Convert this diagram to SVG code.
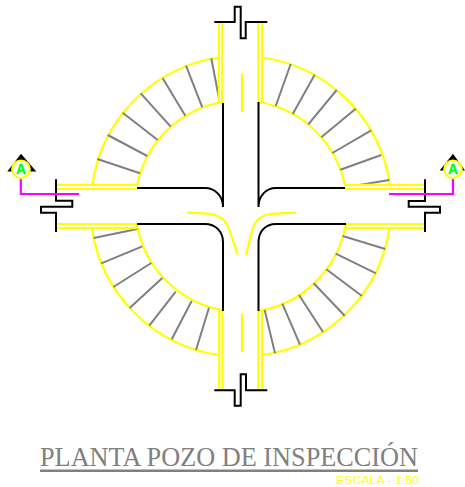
<svg xmlns="http://www.w3.org/2000/svg" width="465" height="487" viewBox="0 0 465 487">
<style>
.k{fill:none;stroke:#000;stroke-width:2}
.y{fill:none;stroke:#ff0;stroke-width:2.2}
.g{fill:none;stroke:#808080;stroke-width:2}
.m{fill:none;stroke:#f0f;stroke-width:2.2}
.l{font-family:"Liberation Sans",Arial,sans-serif;font-size:14px;font-weight:bold;fill:#0f0;text-anchor:middle;stroke:#0f0;stroke-width:.3}
</style>
<rect width="465" height="487" fill="#fff"/>
<g id="arcs" class="y">
<path d="M92.3 185A150.4 150.4 0 0 1 218.7 57.5M137 186A105.7 105.7 0 0 1 222 102"/>
<path d="M262 57.5A150.4 150.4 0 0 1 390 185M258.5 102A105.7 105.7 0 0 1 345 186"/>
<path d="M91.8 228A150.4 150.4 0 0 0 218.7 355M137 225A105.7 105.7 0 0 0 222 310"/>
<path d="M389.5 228A150.4 150.4 0 0 1 262 355M345.5 225A105.7 105.7 0 0 1 258.5 311"/>
</g>
<g id="steps" class="g">
<path d="M97.3 159L140 173.3M107.7 135L147.3 156M122.7 112.7L157.7 140M140.7 93.3L170.7 126.7M162.7 78.3L185.3 115.7M186 65.7L202.3 107.3M211.3 58.3L219.3 100"/>
<path d="M290.7 64L275.7 106M314.7 74.7L292.7 114M336.7 90L308.3 124.3M355.7 108.7L321.3 137.3M371.3 130.3L332.3 153M381.3 155L340.3 169.7M389.3 180L359.3 185"/>
<path d="M137.3 229L93.7 238M142.3 246.3L101.3 263.3M151.3 263L113.3 287M162.3 278L129.7 308M175.7 291.7L149.3 325.7M191.7 301L171.7 339.3M209 307.7L196 350"/>
<path d="M342.7 236L385.3 249M335.7 253.7L376 273.3M326.3 269.3L362 296M313.7 283.3L344.7 315.7M299 295L323 332M282.3 303.7L300 344.7M264.7 310L275 353.3"/>
</g>
<g id="walls" class="y">
<path d="M218.9 22V103M222.2 22V103M258.4 22V102M262 22V102"/>
<path d="M219.2 310V390M222.4 310V390M258.4 311V390M262 311V390"/>
<path d="M56 184.8H137M56 189H137M345 184.8H425M345 189H425"/>
<path d="M56 224H137M56 228.2H137M346 224H425M346 228.2H425"/>
<path d="M242 73.3V111.7M242 313.3V351.7"/>
<path d="M187.3 212.7C195 213 207 213 213 214.5C222 216.5 226 221 229 229C232 238 235 246 237.7 254.7"/>
<path d="M295.7 212.7C288 213 276 213 268 214.5C259 216.5 255 221 252 231C250 239 248 247 246 254.7"/>
</g>
<g id="corners" class="k">
<path d="M137 188H205C215 188 223 196 223 207M223 103V207"/>
<path d="M345 188H276C266 188 258.5 196 258.5 207M258.5 102V207"/>
<path d="M137 224H205C215 224 223 231 223 242V311"/>
<path d="M346 224H276C266 224 258.5 231 258.5 242V311"/>
</g>
<g id="breaks" class="k">
<path d="M214.3 22H234.7V6.7H240.7V38.3H245.7V22H267.3"/>
<path d="M214.3 390.3H234.7V405.7H240.7V374.3H246V390.3H267.3"/>
<path d="M56 179.3V200.8H72.3V206.7H41V212.7H56V232"/>
<path d="M425 179.3V201H408.7V206.7H440V212.7H425V232"/>
</g>
<g id="section-left">
<path class="m" d="M20.8 178V194H79"/>
<path d="M21 153.7L36.3 171.5H7.3Z" fill="#000"/>
<circle cx="21" cy="169.3" r="8.8" fill="#fff" stroke="#ff0" stroke-width="2.2"/>
<text class="l" x="21" y="174.4">A</text>
</g>
<g id="section-right">
<path class="m" d="M453 178V194H389"/>
<path d="M453 153.7L465 170.5H439.7Z" fill="#000"/>
<circle cx="453" cy="169.3" r="8.8" fill="#fff" stroke="#ff0" stroke-width="2.2"/>
<text class="l" x="453" y="174.4">A</text>
</g>
<g id="title">
<text x="40" y="466" font-family="'Liberation Serif','Times New Roman',serif" font-size="26.5" fill="#808080" textLength="378" lengthAdjust="spacingAndGlyphs">PLANTA POZO DE INSPECCIÓN</text>
<path d="M40 470.7H418" stroke="#808080" stroke-width="2.4" fill="none"/>
<text x="336" y="483.5" font-family="'Liberation Sans',Arial,sans-serif" font-size="11.5" fill="#ff0" textLength="83" lengthAdjust="spacingAndGlyphs">ESCALA - 1:50</text>
</g>
</svg>
